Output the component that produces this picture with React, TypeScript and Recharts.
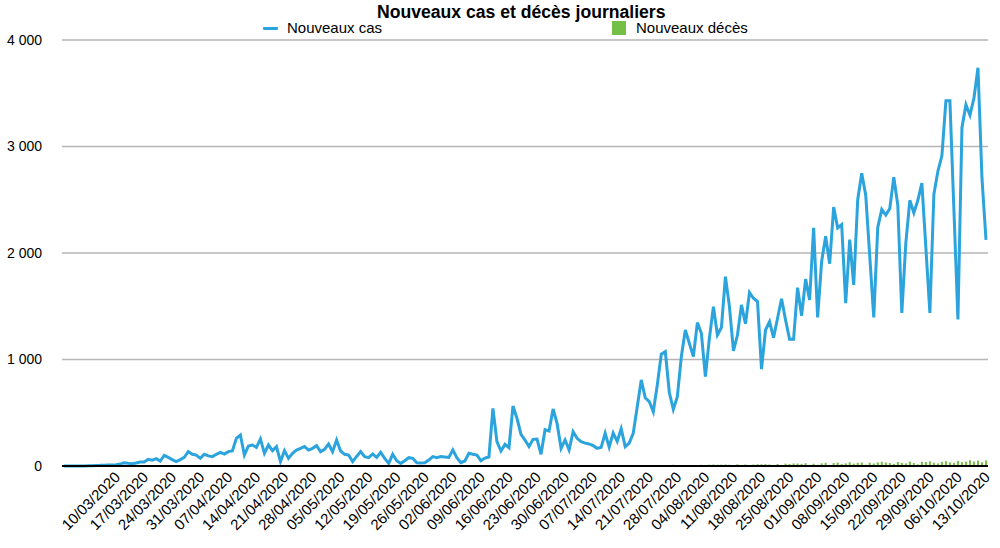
import React from 'react';
import { ComposedChart, Line, Bar, XAxis, YAxis, CartesianGrid, Legend } from 'recharts';

const FONT = '"Liberation Sans", Arial, Helvetica, sans-serif';
const CASES_COLOR = '#2ba3dc';
const DEATHS_COLOR = '#74bf45';

// daily series, first day 26/02/2020, last day 13/10/2020
const startDay = Date.UTC(2020, 1, 26);

const casesValues = [
  0, 0, 0, 0, 1, 1, 2, 3, 5, 6,
  8, 10, 10, 12, 18, 31, 25, 22, 28, 38,
  38, 63, 55, 69, 47, 100, 81, 60, 41, 60,
  81, 135, 110, 103, 72, 110, 95, 88, 110, 128,
  112, 135, 141, 260, 291, 103, 188, 197, 175, 254,
  119, 197, 144, 182, 41, 144, 72, 119, 150, 165,
  182, 150, 166, 191, 135, 157, 207, 135, 244, 141,
  110, 103, 41, 90, 135, 88, 78, 113, 81, 128,
  72, 25, 110, 50, 25, 50, 78, 72, 31, 28,
  31, 56, 88, 78, 88, 85, 81, 150, 78, 31,
  47, 119, 110, 103, 50, 75, 85, 541, 228, 141,
  203, 172, 563, 448, 297, 244, 182, 250, 253, 110,
  341, 329, 535, 400, 166, 244, 150, 322, 260, 228,
  215, 207, 191, 166, 175, 307, 177, 310, 230, 350,
  182, 215, 307, 557, 808, 640, 605, 510, 761, 1050,
  1074, 690, 532, 651, 1027, 1277, 1152, 1027, 1346, 1246,
  839, 1200, 1496, 1230, 1300, 1778, 1496, 1080, 1230, 1513,
  1336, 1629, 1575, 1544, 910, 1277, 1355, 1205, 1387, 1570,
  1371, 1190, 1190, 1675, 1410, 1755, 1560, 2236, 1396, 1921,
  2157, 1899, 2431, 2236, 2267, 1528, 2126, 1701, 2500, 2749,
  2542, 1970, 1396, 2241, 2409, 2356, 2418, 2712, 2449, 1437,
  2093, 2495, 2378, 2495, 2656, 2050, 1437, 2551, 2768, 2913,
  3430, 3430, 2400, 1375, 3176, 3393, 3294, 3455, 3740, 2700,
  2124,
];

const deathsValues = [
  0, 0, 0, 0, 0, 0, 0, 0, 0, 0,
  0, 0, 0, 0, 0, 0, 0, 0, 0, 0,
  0, 0, 0, 0, 0, 0, 0, 0, 0, 0,
  0, 0, 0, 0, 0, 0, 0, 0, 0, 0,
  0, 0, 0, 0, 0, 0, 0, 0, 0, 0,
  0, 0, 0, 0, 0, 0, 0, 0, 0, 0,
  0, 0, 0, 0, 0, 0, 0, 0, 0, 0,
  0, 0, 0, 0, 0, 0, 0, 0, 0, 0,
  0, 0, 0, 0, 0, 0, 0, 0, 0, 0,
  0, 0, 0, 0, 0, 0, 0, 0, 0, 0,
  0, 0, 0, 0, 0, 0, 0, 0, 0, 0,
  0, 0, 0, 0, 0, 0, 0, 0, 0, 0,
  0, 0, 0, 0, 0, 0, 0, 0, 0, 0,
  0, 0, 0, 0, 0, 0, 0, 0, 0, 0,
  0, 0, 0, 0, 0, 0, 0, 0, 0, 0,
  0, 0, 12, 0, 10, 0, 0, 0, 0, 11,
  0, 13, 14, 12, 13, 14, 12, 0, 16, 0,
  15, 0, 14, 17, 16, 18, 15, 0, 19, 0,
  22, 18, 24, 23, 20, 26, 0, 21, 12, 25,
  30, 0, 28, 32, 18, 25, 35, 22, 30, 33,
  12, 31, 24, 35, 40, 33, 28, 20, 38, 30,
  25, 42, 28, 15, 40, 37, 44, 30, 24, 39,
  46, 34, 30, 48, 36, 41, 55, 42, 50, 35,
  52,
];

const tickLabels = [
  '10/03/2020', '17/03/2020', '24/03/2020', '31/03/2020', '07/04/2020', '14/04/2020',
  '21/04/2020', '28/04/2020', '05/05/2020', '12/05/2020', '19/05/2020', '26/05/2020',
  '02/06/2020', '09/06/2020', '16/06/2020', '23/06/2020', '30/06/2020', '07/07/2020',
  '14/07/2020', '21/07/2020', '28/07/2020', '04/08/2020', '11/08/2020', '18/08/2020',
  '25/08/2020', '01/09/2020', '08/09/2020', '15/09/2020', '22/09/2020', '29/09/2020',
  '06/10/2020', '13/10/2020',
];

const yTicks = [0, 1000, 2000, 3000, 4000];

const pad = (n: number) => (n < 10 ? '0' + n : String(n));

function dayLabel(i: number) {
  const d = new Date(startDay + i * 86400000);
  return `${pad(d.getUTCDate())}/${pad(d.getUTCMonth() + 1)}/${d.getUTCFullYear()}`;
}

const data = casesValues.map((v, i) => ({
  date: dayLabel(i),
  cases: v,
  deaths: deathsValues[i],
}));

const fmtThousands = (v: number) => String(v).replace(/\B(?=(\d{3})+(?!\d))/g, ' ');

function DateTick(props: any) {
  const { x, y, payload } = props;
  return (
    <g transform={`translate(${x + 5},${y + 12})`}>
      <text textAnchor="end" transform="rotate(-45)" fontSize={15} fill="#000" fontFamily={FONT}>
        {payload.value}
      </text>
    </g>
  );
}

function ChartLegend() {
  return (
    <div style={{ position: 'relative', width: 1000, height: 20, fontFamily: FONT, fontSize: 15, color: '#000' }}>
      <div style={{ position: 'absolute', left: 263, top: 9, width: 15, height: 3, background: CASES_COLOR, borderRadius: 1 }} />
      <div style={{ position: 'absolute', left: 287, top: 0, lineHeight: '20px' }}>Nouveaux cas</div>
      <div style={{ position: 'absolute', left: 612, top: 3, width: 14, height: 14, background: DEATHS_COLOR }} />
      <div style={{ position: 'absolute', left: 636, top: 0, lineHeight: '20px' }}>Nouveaux décès</div>
    </div>
  );
}

export default function App() {
  return (
    <div style={{ position: 'absolute', left: 0, top: 0, width: 1000, height: 548, background: '#fff' }}>
      <div
        style={{
          position: 'absolute',
          left: 377,
          top: 1,
          fontFamily: FONT,
          fontWeight: 'bold',
          fontSize: 17.6,
          lineHeight: '22px',
          color: '#000',
          zIndex: 1,
        }}
      >
        Nouveaux cas et décès journaliers
      </div>
      <ComposedChart width={1000} height={548} data={data} margin={{ top: 40, right: 12, bottom: 0, left: 0 }}>
        <CartesianGrid vertical={false} stroke="#b5b5b5" strokeWidth={1.5} />
        <XAxis
          dataKey="date"
          ticks={tickLabels}
          interval={0}
          tick={<DateTick />}
          tickLine={false}
          tickSize={0}
          tickMargin={0}
          height={82}
          axisLine={{ stroke: '#000', strokeWidth: 2 }}
        />
        <YAxis
          domain={[0, 4000]}
          ticks={yTicks}
          tickFormatter={fmtThousands}
          axisLine={false}
          tickLine={false}
          tickSize={0}
          tickMargin={20}
          width={62}
          tick={{ fill: '#000', fontSize: 14, fontFamily: FONT }}
        />
        <Legend
          layout="horizontal"
          verticalAlign="middle"
          align="center"
          content={<ChartLegend />}
          wrapperStyle={{ top: 18, left: 0, width: 1000, height: 20 }}
        />
        <Bar dataKey="deaths" name="Nouveaux décès" fill={DEATHS_COLOR} barSize={2} isAnimationActive={false} />
        <Line
          type="linear"
          dataKey="cases"
          name="Nouveaux cas"
          stroke={CASES_COLOR}
          strokeWidth={3}
          dot={false}
          isAnimationActive={false}
        />
      </ComposedChart>
    </div>
  );
}
